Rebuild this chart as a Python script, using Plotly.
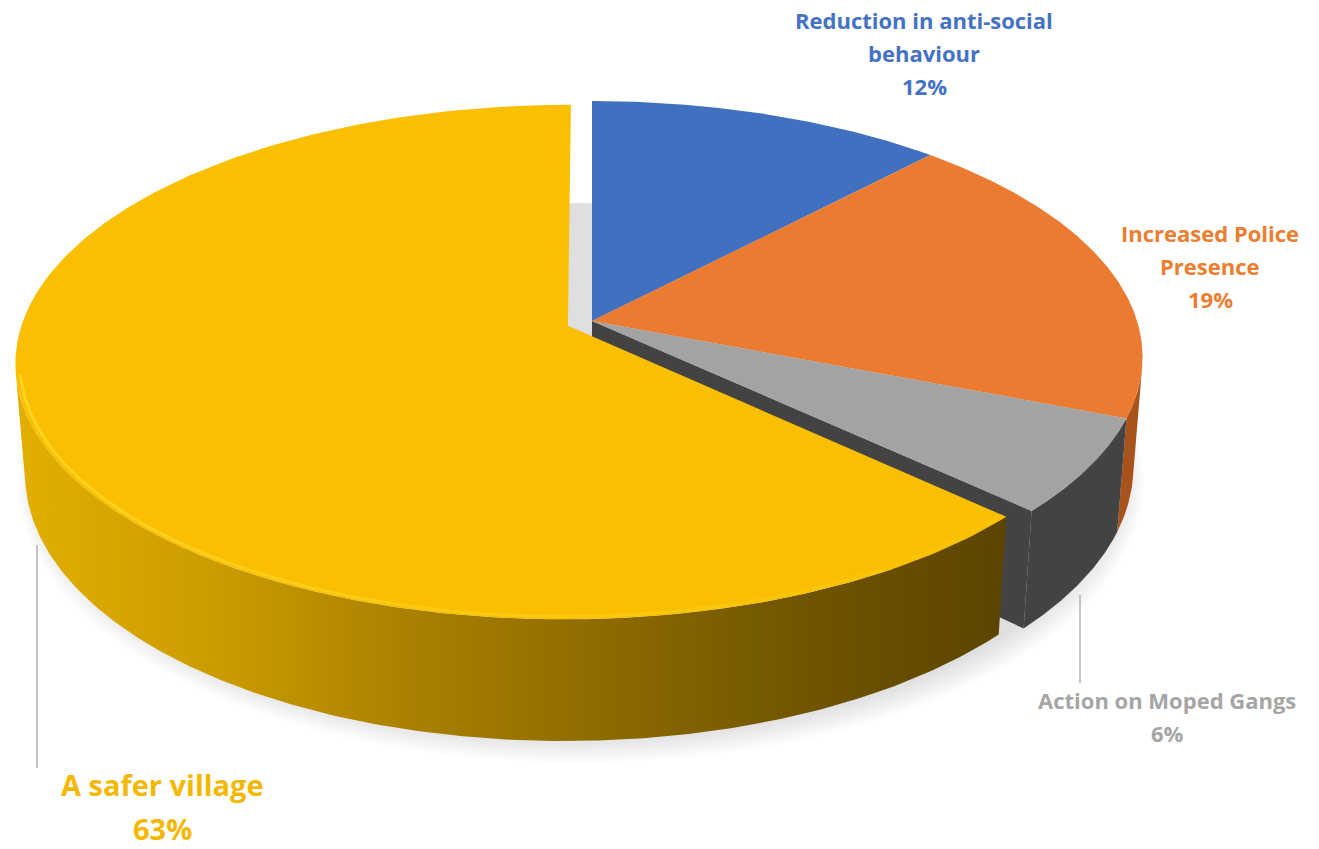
import numpy as np
import plotly.graph_objects as go

# ---- data -------------------------------------------------------------
categories = [
    "Reduction in anti-social behaviour",
    "Increased Police Presence",
    "Action on Moped Gangs",
    "A safer village",
]
label_lines = [
    ["Reduction in anti-social", "behaviour"],
    ["Increased Police", "Presence"],
    ["Action on Moped Gangs"],
    ["A safer village"],
]
values = [12, 19, 6, 63]

# ---- styling ----------------------------------------------------------
top_colors = ["#4170C0", "#EA7B30", "#A3A3A3", "#F9BF00"]
side_colors = ["#2A4C85", "#A9531C", "#434343", "#B38700"]
label_colors = ["#4472C4", "#ED7D31", "#A5A5A5", "#F5B800"]
explode = [0.0, 0.0, 0.0, 0.048]
label_anchor = [(924, 20), (1210, 233), (1167, 700), (162, 784)]
label_gap = [33, 33, 33, 44]
label_size = [22, 22, 22, 29]
leaders = [None, None, ((1080, 595), (1080, 683)), ((37, 545), (37, 768))]
FONT = "Open Sans"

W, H = 1319, 849

# ---- perspective camera for the 3-D pie --------------------------------
ELEV = np.radians(27.4)
DIST = 6.32
FOCAL = 3445.0
CX, CY = 592.0, 321.0
THICK = 0.23
COS, SIN = np.cos(ELEV), np.sin(ELEV)


def project(X, Y, Z):
    d = COS * Y - SIN * Z + DIST
    return CX + FOCAL * X / d, CY - FOCAL * (SIN * Y + COS * Z) / d


fractions = np.array(values, dtype=float) / sum(values)
ends = np.cumsum(fractions) * 2 * np.pi
starts = ends - fractions * 2 * np.pi
mids = (starts + ends) / 2
offsets = [(e * np.sin(m), e * np.cos(m)) for e, m in zip(explode, mids)]


def rim(t0, t1, off, z, r=1.0, n=240):
    th = np.linspace(t0, t1, n)
    return off[0] + r * np.sin(th), off[1] + r * np.cos(th), np.full(n, z)


def visible_arc(t0, t1, off):
    th = np.linspace(t0, t1, 1200)
    score = -DIST * COS * np.cos(th) - (off[0] * np.sin(th) + off[1] * np.cos(th)) - 1
    keep = th[score > 0]
    if keep.size < 2:
        return None
    return keep.min(), keep.max()


def polygon(X, Y, Z, fillcolor, **extra):
    x, y = project(np.asarray(X), np.asarray(Y), np.asarray(Z))
    x = np.append(x, x[0])
    y = np.append(y, y[0])
    return go.Scatter(x=x, y=y, mode="lines", fill="toself", fillcolor=fillcolor,
                      line=dict(width=0), hoverinfo="skip", showlegend=False, **extra)


def sector_top(i, z=0.0, r=1.0):
    off = offsets[i]
    X, Y, Z = rim(starts[i], ends[i], off, z, r)
    return (np.concatenate([[off[0]], X]), np.concatenate([[off[1]], Y]),
            np.concatenate([[z], Z]))


def outer_side(i):
    rng = visible_arc(starts[i], ends[i], offsets[i])
    if rng is None:
        return None
    xt, yt, zt = rim(rng[0], rng[1], offsets[i], 0.0)
    xb, yb, zb = rim(rng[1], rng[0], offsets[i], -THICK)
    return np.concatenate([xt, xb]), np.concatenate([yt, yb]), np.concatenate([zt, zb])


def radial_faces(i):
    n = len(values)
    off = offsets[i]
    faces = []
    for t, nb, sign in ((starts[i], (i - 1) % n, -1), (ends[i], (i + 1) % n, 1)):
        if explode[nb] == explode[i]:
            continue
        nx, ny = sign * np.cos(t), -sign * np.sin(t)
        score = -DIST * COS * ny - (off[0] * nx + off[1] * ny)
        if score < 0.5:
            continue
        ex, ey = off[0] + np.sin(t), off[1] + np.cos(t)
        faces.append(([off[0], ex, ex, off[0]], [off[1], ey, ey, off[1]],
                      [0.0, 0.0, -THICK, -THICK]))
    return faces


fig = go.Figure()

# soft drop shadow under the whole pie
for k in range(8):
    r = 1.0 + 0.0055 * k
    X, Y, Z = rim(0, 2 * np.pi, (-0.02, -0.01), -THICK - 0.003 * k, r, 360)
    fig.add_trace(polygon(X, Y, Z, "rgba(0,0,0,0.014)"))

# slices that stay in place first, exploded slice last (nearest the viewer)
order = sorted(range(len(values)), key=lambda i: explode[i])
groups = {}
for i in order:
    groups.setdefault(explode[i], []).append(i)

yellow_scale = [[0.0, "#E2AF00"], [0.2, "#CC9C00"], [0.4, "#A98000"],
                [0.6, "#8C6A00"], [0.8, "#705400"], [1.0, "#5C4400"]]

for key in sorted(groups):
    members = groups[key]
    for i in members:
        side = outer_side(i)
        if side is not None:
            if explode[i] > 0:
                fig.add_trace(polygon(*side, side_colors[i],
                                      fillgradient=dict(type="horizontal",
                                                        colorscale=yellow_scale)))
            else:
                fig.add_trace(polygon(*side, side_colors[i]))
        for face in radial_faces(i):
            fig.add_trace(polygon(*face, side_colors[i]))
    for i in members:
        fig.add_trace(polygon(*sector_top(i), top_colors[i]))
        # bevel highlight along the visible front rim
        rng = visible_arc(starts[i], ends[i], offsets[i])
        if rng is not None and explode[i] > 0:
            segs = np.linspace(rng[0], rng[1], 9)
            for s0, s1 in zip(segs[:-1], segs[1:]):
                X, Y, Z = rim(s0, s1, offsets[i], 0.0, 0.992, 40)
                hx, hy = project(X, Y, Z)
                mid = 0.5 * (s0 + s1)
                alpha = float(np.clip(0.15 + 0.75 * (mid - rng[0]) / (rng[1] - rng[0]), 0, 0.9))
                fig.add_trace(go.Scatter(x=hx, y=hy, mode="lines",
                                         line=dict(color=f"rgba(255,214,40,{alpha:.2f})", width=3),
                                         hoverinfo="skip", showlegend=False))

# data labels
annotations = []
for i in range(len(values)):
    lines = label_lines[i] + [f"{values[i]}%"]
    x0, y0 = label_anchor[i]
    for j, txt in enumerate(lines):
        annotations.append(dict(
            x=x0, y=y0 + j * label_gap[i], xref="x", yref="y", text=f"<b>{txt}</b>",
            showarrow=False, xanchor="center", yanchor="middle", borderpad=0,
            font=dict(family=FONT, size=label_size[i], color=label_colors[i]),
        ))

shapes = []
for seg in leaders:
    if seg is None:
        continue
    (x0, y0), (x1, y1) = seg
    shapes.append(dict(type="line", x0=x0, y0=y0, x1=x1, y1=y1, xref="x", yref="y",
                       line=dict(color="#A6A6A6", width=1.3)))

fig.update_layout(
    width=W, height=H,
    margin=dict(l=0, r=0, t=0, b=0),
    paper_bgcolor="white", plot_bgcolor="white",
    xaxis=dict(range=[0, W], visible=False, fixedrange=True),
    yaxis=dict(range=[H, 0], visible=False, fixedrange=True),
    annotations=annotations,
    shapes=shapes,
    showlegend=False,
)

fig.write_html("out.html")
